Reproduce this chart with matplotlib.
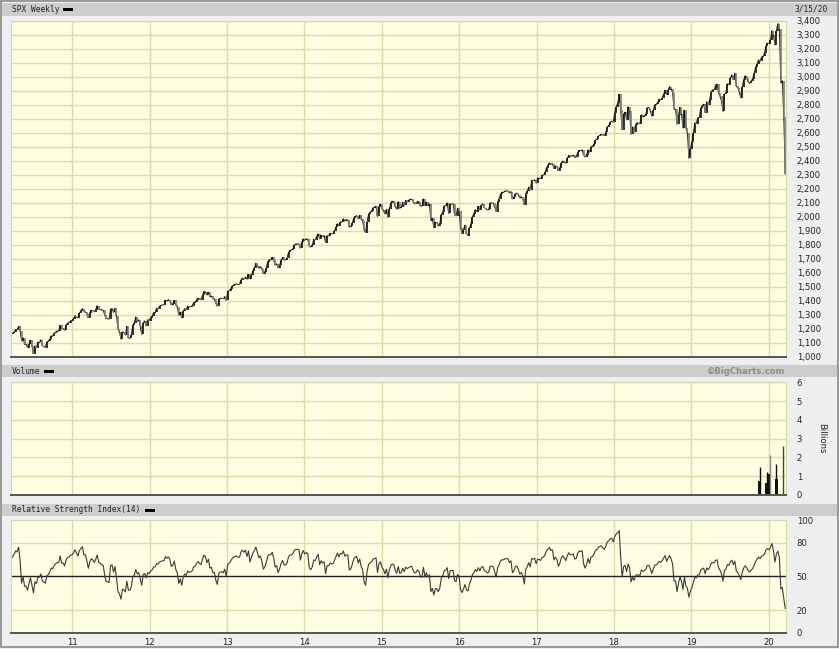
import matplotlib.pyplot as plt
import matplotlib.dates as mdates
from matplotlib.patches import Rectangle
import numpy as np
import pandas as pd

# weekly closes of SPX, first week ending 2009-12-04 (early weeks only warm up the RSI)
first_week = "2009-12-04"
closes = [
    # 2009 dec
    1106, 1106, 1102, 1126, 1115,
    # 2010
    1145, 1136, 1091, 1074, 1066, 1075, 1109, 1104, 1138, 1150, 1160, 1167,
    1179, 1194, 1192, 1217, 1187, 1111, 1136, 1088, 1089, 1065, 1092, 1117, 1076,
    1022, 1078, 1065, 1102, 1102, 1121, 1079, 1071, 1065, 1105, 1110, 1126, 1149,
    1146, 1166, 1176, 1183, 1183, 1225, 1199, 1200, 1189, 1225, 1240, 1244, 1257, 1258,
    # 2011
    1272, 1293, 1284, 1276, 1311, 1329, 1343, 1320, 1321, 1304, 1279, 1314,
    1332, 1328, 1320, 1337, 1364, 1340, 1338, 1333, 1331, 1300, 1271, 1272, 1268,
    1340, 1344, 1316, 1345, 1292, 1199, 1179, 1124, 1177, 1174, 1154, 1216, 1136, 1131,
    1155, 1225, 1238, 1285, 1253, 1264, 1216, 1159, 1244, 1255, 1219, 1265, 1258,
    # 2012
    1278, 1289, 1315, 1316, 1345, 1343, 1361, 1366, 1370, 1371, 1404, 1397, 1408,
    1398, 1370, 1378, 1403, 1369, 1353, 1295, 1318, 1278, 1325, 1343, 1335, 1362,
    1355, 1357, 1363, 1386, 1391, 1406, 1418, 1411, 1407, 1438, 1466, 1460, 1441,
    1461, 1429, 1433, 1412, 1414, 1380, 1360, 1409, 1416, 1418, 1413, 1430, 1402,
    # 2013
    1466, 1472, 1486, 1503, 1513, 1518, 1520, 1516, 1518, 1551, 1561, 1556, 1569,
    1553, 1588, 1555, 1582, 1614, 1634, 1667, 1650, 1631, 1643, 1626, 1593, 1606,
    1632, 1680, 1692, 1691, 1710, 1691, 1655, 1664, 1633, 1655, 1688, 1710, 1692,
    1690, 1704, 1745, 1760, 1762, 1771, 1798, 1805, 1806, 1805, 1775, 1818, 1842,
    # 2014
    1831, 1842, 1839, 1790, 1783, 1797, 1838, 1836, 1859, 1878, 1841, 1866, 1857,
    1865, 1815, 1864, 1863, 1881, 1878, 1878, 1900, 1924, 1950, 1937, 1963, 1961,
    1985, 1968, 1978, 1978, 1925, 1931, 1955, 1988, 2003, 2008, 1985, 2010, 1982,
    1968, 1906, 1887, 1965, 2018, 2032, 2040, 2064, 2068, 2075, 2002, 2071, 2089,
    # 2015
    2058, 2045, 2019, 2051, 1995, 2055, 2097, 2110, 2105, 2071, 2053, 2108, 2061,
    2067, 2102, 2081, 2117, 2108, 2116, 2123, 2126, 2107, 2092, 2094, 2110, 2102,
    2076, 2076, 2127, 2079, 2104, 2078, 2092, 1971, 1989, 1921, 1961, 1958, 1931,
    1951, 2015, 2033, 2075, 2079, 2099, 2023, 2089, 2090, 2092, 2012, 2006, 2061, 2044,
    # 2016
    1922, 1880, 1907, 1940, 1880, 1865, 1918, 1948, 1999, 2022, 2050, 2035,
    2073, 2048, 2081, 2092, 2065, 2057, 2047, 2052, 2099, 2099, 2096, 2071, 2037,
    2103, 2130, 2162, 2175, 2174, 2183, 2184, 2184, 2169, 2180, 2128, 2139, 2165, 2168,
    2153, 2133, 2141, 2126, 2085, 2164, 2182, 2213, 2192, 2260, 2258, 2264, 2239,
    # 2017
    2277, 2275, 2271, 2295, 2297, 2316, 2351, 2367, 2383, 2373, 2378, 2344, 2363,
    2355, 2329, 2348, 2384, 2399, 2391, 2382, 2416, 2439, 2432, 2433, 2438, 2423,
    2425, 2459, 2473, 2472, 2477, 2441, 2426, 2443, 2477, 2461, 2500, 2502, 2519,
    2549, 2553, 2575, 2581, 2588, 2582, 2579, 2602, 2642, 2652, 2676, 2683, 2674,
    # 2018
    2743, 2786, 2810, 2873, 2762, 2620, 2732, 2747, 2691, 2786, 2752, 2588, 2641,
    2604, 2656, 2670, 2670, 2663, 2728, 2713, 2721, 2735, 2779, 2780, 2755, 2718,
    2760, 2801, 2802, 2819, 2840, 2833, 2850, 2875, 2902, 2872, 2905, 2930, 2914,
    2886, 2767, 2768, 2659, 2723, 2781, 2736, 2633, 2760, 2633, 2600, 2417, 2486,
    # 2019
    2532, 2596, 2671, 2665, 2707, 2708, 2776, 2793, 2804, 2743, 2822, 2801, 2834,
    2893, 2907, 2905, 2940, 2946, 2881, 2860, 2826, 2752, 2873, 2887, 2950, 2942,
    2990, 3014, 2977, 3026, 2932, 2919, 2889, 2847, 2926, 2979, 3007, 2992, 2962,
    2952, 2970, 2986, 3023, 3067, 3093, 3120, 3110, 3141, 3146, 3169, 3221, 3240,
    # 2020
    3235, 3265, 3330, 3295, 3226, 3328, 3380, 3338, 2954, 2972, 2711, 2305,
]

# volume (billions), only the last few bars are shown on the source chart
vol_dates = ["2019-11-21", "2019-12-23", "2020-01-07", "2020-02-06", "2020-03-07"]
vol_thin = [1.50, 1.24, 2.13, 1.66, 2.62]
vol_thick = [0.76, 0.64, 1.10, 0.83, 0.0]

price_ticks = list(range(1000, 3500, 100))
vol_ticks = [0, 1, 2, 3, 4, 5, 6]
rsi_ticks = [0, 20, 50, 80, 100]
year_labels = ["11", "12", "13", "14", "15", "16", "17", "18", "19", "20"]

closes = np.array(closes, dtype=float)
dates = np.datetime64(first_week) + 7 * np.arange(len(closes))
dates = pd.to_datetime(dates)

# RSI(14), Wilder smoothing
s = pd.Series(closes)
delta = s.diff()
gain = delta.clip(lower=0).ewm(alpha=1 / 14, adjust=False).mean()
loss = (-delta.clip(upper=0)).ewm(alpha=1 / 14, adjust=False).mean()
rsi = 100 - 100 / (1 + gain / loss)

W, H = 839, 649
BG = "#fefee2"
GRID = "#dcdcaa"
FS = 6.1
HEAD = dict(family="DejaVu Sans Mono", fontsize=5.7, va="center", color="#222222")
xmin = pd.Timestamp("2010-03-18")
xmax = pd.Timestamp("2020-03-22")
years = [pd.Timestamp(f"20{y}-01-01") for y in year_labels]

fig = plt.figure(figsize=(W / 100, H / 100), dpi=100, facecolor="#efefef")


def box(top, bottom, left=11, right=785.7):
    return [left / W, 1 - bottom / H, (right - left) / W, (bottom - top) / H]


def strip(top, bottom):
    fig.patches.append(Rectangle((2 / W, 1 - bottom / H), (W - 4) / W, (bottom - top) / H,
                                 transform=fig.transFigure, facecolor="#cdcdcd",
                                 edgecolor="none", zorder=0))


def legend_mark(x, y):
    fig.patches.append(Rectangle((x / W, 1 - (y + 1.5) / H), 10 / W, 3 / H,
                                 transform=fig.transFigure, facecolor="black",
                                 edgecolor="none", zorder=3))


# outer frame
fig.patches.append(Rectangle((0.5 / W, 2 / H), (W - 1.5) / W, (H - 2.5) / H,
                             transform=fig.transFigure, facecolor="none",
                             edgecolor="#8a8a8a", lw=1.2, zorder=0))
strip(3, 15.5)
strip(365, 377)
strip(504, 515.5)


def style(ax):
    ax.set_facecolor(BG)
    ax.set_xlim(xmin, xmax)
    ax.set_xticks(years)
    ax.yaxis.tick_right()
    ax.tick_params(axis="both", length=0, labelsize=FS, colors="#222222")
    ax.tick_params(axis="y", pad=8)
    ax.grid(True, color=GRID, lw=1.0)
    ax.set_axisbelow(True)
    for side in ["left", "top", "right"]:
        ax.spines[side].set_color("#d6d6b0")
        ax.spines[side].set_linewidth(0.8)
    ax.spines["bottom"].set_color("#555555")
    ax.spines["bottom"].set_linewidth(1.4)


# price panel
ax1 = fig.add_axes(box(20.7, 356.7))
style(ax1)
up = closes[1:] >= closes[:-1]
lo = np.minimum(closes[1:], closes[:-1])
hi = np.maximum(closes[1:], closes[:-1])
cols = np.where(up, "#111111", "#7a7a7a")
ax1.plot(dates, closes, color="#222222", lw=0.7)
ax1.vlines(dates[1:], lo, hi, colors=cols, lw=1.2)
ax1.set_ylim(1000, 3400)
ax1.set_yticks(price_ticks)
ax1.set_yticklabels([f"{v:,}" for v in price_ticks])
ax1.set_xticklabels([])

# volume panel
ax2 = fig.add_axes(box(382.3, 495))
style(ax2)
vd = pd.to_datetime(vol_dates)
thin_cols = ["#111111", "#111111", "#8a8a8a", "#111111", "#444444"]
ax2.vlines(vd, 0, vol_thin, colors=thin_cols, lw=1.0)
ax2.bar(vd, vol_thick, width=15, color="#111111")
ax2.set_ylim(0, 6)
ax2.set_yticks(vol_ticks)
ax2.set_xticklabels([])
fig.text(822 / W, 1 - 438 / H, "Billions", rotation=270, fontsize=FS,
         ha="center", va="center", color="#222222")

# RSI panel
ax3 = fig.add_axes(box(520, 632.7))
style(ax3)
ax3.grid(False, axis="y")
for v in [20, 80]:
    ax3.axhline(v, color=GRID, lw=1.0, zorder=0)
ax3.axhline(50, color="#222222", lw=1.0)
ax3.plot(dates, rsi, color="#3a3a3a", lw=0.8)
ax3.set_ylim(0, 100)
ax3.set_yticks(rsi_ticks)
ax3.set_xticklabels(year_labels)
ax3.tick_params(axis="x", pad=4)

# header texts
fig.text(12 / W, 1 - 9.5 / H, "SPX Weekly", **HEAD)
legend_mark(63, 9.3)
fig.text(828 / W, 1 - 9.5 / H, "3/15/20", ha="right", **HEAD)
fig.text(12 / W, 1 - 371 / H, "Volume", **HEAD)
legend_mark(44, 371)
fig.text(785 / W, 1 - 371 / H, "\u00a9BigCharts.com", fontsize=FS, va="center", ha="right",
         color="#8c8c8c", fontweight="bold")
fig.text(12 / W, 1 - 510 / H, "Relative Strength Index(14)", **HEAD)
legend_mark(145, 510)

fig.savefig("out.png", dpi=100, facecolor=fig.get_facecolor())
